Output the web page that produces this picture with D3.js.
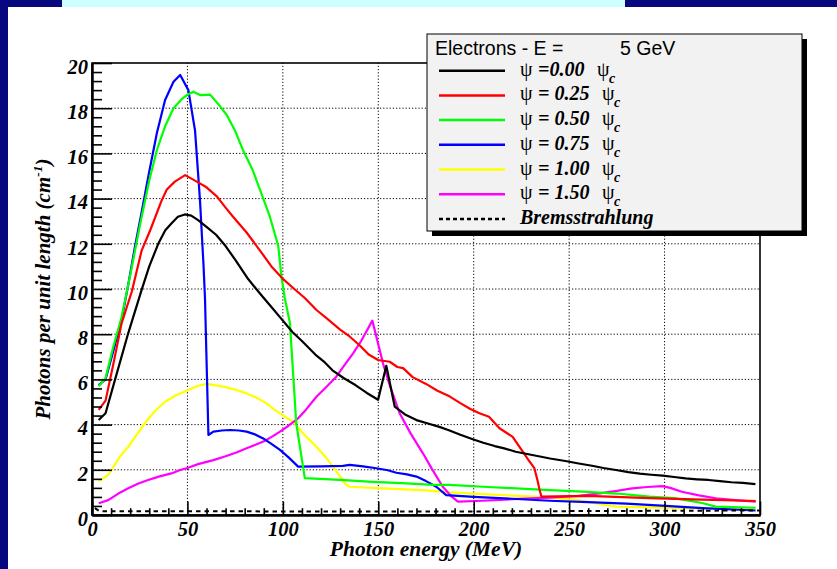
<!DOCTYPE html>
<html><head><meta charset="utf-8">
<script src="https://cdn.jsdelivr.net/npm/d3@7"></script>
<style>body{margin:0;background:#fff;} svg{display:block;}</style>
</head><body><svg id="c" width="837" height="569"></svg>
<script>
// ---------------- DATA ----------------
const legendTitle = "Electrons - E =";
const legendEnergy = "5 GeV";
const psiLabels = ["=0.00", "= 0.25", "= 0.50", "= 0.75", "= 1.00", "= 1.50"];
const bremsLabel = "Bremsstrahlung";
const seriesColors = ["#000000", "#ff0000", "#00ff00", "#0000ff", "#ffff00", "#ff00ff"];
const xTickValues = [0, 50, 100, 150, 200, 250, 300, 350];
const yTickValues = [0, 2, 4, 6, 8, 10, 12, 14, 16, 18, 20];
const xTitle = "Photon energy (MeV)";
const yTitleMain = "Photons per unit length (cm";
const yTitleSup = "-1";

const psi000 = [[3.5,4.2],[7.1,4.5],[12,5.97],[19,8.05],[26,9.96],[30,11.0],[34.7,12.0],[38.4,12.6],[41.6,12.9],[45,13.2],[48.6,13.3],[52,13.25],[55.6,13.05],[60,12.75],[65,12.4],[70,11.9],[75,11.3],[81.3,10.5],[88,9.8],[94,9.2],[100,8.6],[105,8.1],[110,7.7],[117,7.1],[122,6.75],[126,6.4],[132,6.05],[138,5.75],[144,5.4],[149.9,5.1],[154.2,6.6],[158.6,4.8],[164,4.45],[170,4.2],[176,4.05],[182,3.9],[187,3.75],[193,3.55],[199.5,3.35],[205,3.2],[211,3.05],[216,2.95],[222,2.8],[228,2.7],[234,2.6],[240,2.5],[248,2.39],[255,2.28],[262,2.18],[268,2.08],[274.5,1.99],[281,1.9],[287,1.83],[293,1.78],[299,1.74],[305,1.68],[311,1.62],[317,1.58],[323,1.55],[329,1.5],[335,1.45],[341,1.42],[347.6,1.37]];
const psi025 = [[3.5,4.65],[7.1,5.06],[11,6.6],[15.5,8.48],[20.9,9.9],[26,11.7],[30.5,12.6],[36.4,13.9],[39.2,14.4],[43.4,14.75],[48.8,15.04],[54.9,14.75],[60,14.5],[65.4,14.1],[70,13.6],[73.9,13.2],[81,12.5],[88.9,11.6],[94,11.0],[100,10.45],[106,10.0],[111.5,9.6],[117.6,9.07],[123,8.7],[130,8.2],[135,7.9],[140.3,7.5],[145,7.1],[149.9,6.86],[156,6.78],[160,6.55],[163,6.5],[168,6.1],[175,5.8],[181,5.5],[187.3,5.25],[193,4.95],[198,4.7],[203,4.5],[208,4.35],[213.5,3.84],[220.4,3.46],[225.7,2.8],[229,2.4],[231.8,2.07],[233.5,1.5],[234.4,1.15],[235.5,0.81],[260,0.85],[292,0.75],[320,0.68],[347.7,0.62]];
const psi050 = [[3.5,5.7],[7.1,6.05],[11,7.4],[15.5,8.75],[20,10.6],[25.3,12.9],[30,14.8],[34,16.15],[38.3,17.2],[42.7,18.0],[47,18.4],[50,18.6],[53.1,18.73],[56.6,18.58],[61.9,18.6],[66,18.2],[70.6,17.7],[75,17.0],[79.1,16.15],[84,15.3],[88,14.4],[93.2,13.2],[97.6,11.9],[99.3,10.5],[101,9.6],[103.7,8.5],[107,4.07],[111.5,1.63],[130,1.55],[147,1.47],[165,1.4],[178.5,1.33],[187.3,1.33],[205,1.25],[222,1.18],[240,1.1],[257,1.03],[275,0.95],[292,0.81],[305,0.75],[312,0.65],[319.6,0.53],[326.8,0.37],[347.7,0.32]];
const psi075 = [[3.5,5.75],[7.1,6.0],[11,7.2],[15.5,8.63],[19,10.2],[22.5,11.87],[26,13.4],[30,15.2],[34,16.9],[38.3,18.36],[42.7,19.17],[46.2,19.47],[50.5,18.8],[54,17.0],[56.6,13.9],[58.4,11.1],[59.2,9.6],[61,3.54],[63.6,3.69],[68,3.74],[72.3,3.76],[77,3.74],[81,3.69],[85,3.58],[89.7,3.39],[94,3.15],[98.5,2.88],[103,2.55],[108,2.14],[120,2.15],[131.5,2.17],[135,2.22],[142,2.15],[149,2.07],[155,1.98],[159.5,1.87],[165,1.8],[170,1.7],[175,1.5],[180.4,1.25],[185.6,0.88],[200,0.8],[220,0.72],[239.6,0.63],[260,0.57],[280,0.5],[300.6,0.4],[320,0.3],[347.7,0.2]];
const psi100 = [[3.5,1.5],[8.5,1.77],[14.8,2.6],[19,3.02],[23,3.5],[27.7,4.06],[33,4.6],[38.2,5.01],[44,5.3],[50.4,5.53],[55.6,5.72],[60.1,5.8],[64,5.75],[68.8,5.68],[75,5.55],[81,5.38],[86,5.2],[91.5,4.94],[95,4.7],[98.5,4.5],[102,4.3],[105.4,4.13],[109,3.76],[113,3.4],[117.6,3.02],[122,2.6],[126.3,2.14],[130,1.7],[133,1.35],[135,1.25],[152.5,1.18],[173,1.1],[187.3,1.0],[210,0.9],[239.6,0.78],[255,0.65],[265,0.5],[274.5,0.37],[300,0.33],[325,0.28],[347.7,0.25]];
const psi150 = [[3.5,0.52],[8.5,0.66],[14.8,1.0],[19,1.18],[24,1.38],[29.4,1.55],[35,1.7],[41.6,1.84],[46.2,1.99],[50,2.08],[55.6,2.25],[63.6,2.43],[70,2.6],[76,2.78],[81,2.95],[86,3.12],[91,3.3],[95,3.5],[98.5,3.69],[103,3.95],[108,4.28],[112,4.65],[117.6,5.23],[122,5.6],[128,6.12],[132,6.6],[136.8,7.15],[141,7.7],[146.9,8.6],[152.5,6.7],[156,5.75],[161.2,4.5],[167,3.6],[173.4,2.73],[178,2.05],[183.8,1.25],[188,0.85],[191.7,0.59],[204.7,0.63],[220,0.7],[239.6,0.77],[255,0.85],[266,0.96],[275,1.07],[283,1.18],[291,1.24],[298.8,1.28],[303,1.2],[309,1.03],[318,0.87],[326.8,0.74],[337,0.66],[347.7,0.59]];
const brems = [[1.5,0.3],[4,0.17],[175,0.15],[350,0.2]];

// ---------------- LAYOUT ----------------
const W = 837, H = 569;
const svg = d3.select("#c");
const serifBI = s => s.style("font-family", "'Liberation Serif','Times New Roman',serif")
  .style("font-weight", "bold").style("font-style", "italic");

svg.append("rect").attr("width", W).attr("height", H).attr("fill", "#07077f");
svg.append("rect").attr("x", 62).attr("y", 0).attr("width", 563).attr("height", 7).attr("fill", "#ccffff");
svg.append("rect").attr("x", 8).attr("y", 7).attr("width", W - 8).attr("height", H - 7).attr("fill", "#ffffff");

const m = {l: 92, t: 63, r: 760, b: 515};
const x = d3.scaleLinear().domain([0, 350]).range([m.l, m.r]);
const y = d3.scaleLinear().domain([0, 20]).range([m.b, m.t]);

// grid
const grid = svg.append("g").attr("stroke", "#000").attr("stroke-width", 1).attr("stroke-dasharray", "1.2,2");
grid.selectAll(".gx").data(xTickValues.slice(1, -1)).join("line")
  .attr("x1", d => x(d)).attr("x2", d => x(d)).attr("y1", y(0)).attr("y2", y(20));
grid.selectAll(".gy").data(yTickValues.slice(1, -1)).join("line")
  .attr("y1", d => y(d)).attr("y2", d => y(d)).attr("x1", x(0)).attr("x2", x(350));

// series
const line = d3.line().x(d => x(d[0])).y(d => y(d[1]));
const allSeries = [psi000, psi025, psi050, psi075, psi100, psi150];
const drawOrder = [4, 5, 3, 2, 1, 0];
drawOrder.forEach(i => {
  svg.append("path").datum(allSeries[i]).attr("d", line).attr("fill", "none")
    .attr("stroke", seriesColors[i]).attr("stroke-width", 2.2).attr("stroke-linejoin", "round");
});
svg.append("path").datum(brems).attr("d", line).attr("fill", "none")
  .attr("stroke", "#000").attr("stroke-width", 2).attr("stroke-dasharray", "4.5,4");

// axes
const gx = svg.append("g").attr("transform", `translate(0,${m.b})`)
  .call(d3.axisBottom(x).tickValues(xTickValues).tickSizeInner(-13.5).tickSizeOuter(0).tickPadding(6).tickFormat(d3.format("d")));
const gxm = svg.append("g").attr("transform", `translate(0,${m.b})`)
  .call(d3.axisBottom(x).tickValues(d3.range(0, 351, 10).filter(v => v % 50 !== 0)).tickSizeInner(-6.8).tickSizeOuter(0).tickFormat(""));
const gy = svg.append("g").attr("transform", `translate(${m.l},0)`)
  .call(d3.axisLeft(y).tickValues(yTickValues).tickSizeInner(-20).tickSizeOuter(0).tickPadding(4).tickFormat(d3.format("d")));
const gym = svg.append("g").attr("transform", `translate(${m.l},0)`)
  .call(d3.axisLeft(y).tickValues(d3.range(0, 101, 2).map(v => v / 5).filter(v => Math.round(v * 5) % 10 !== 0)).tickSizeInner(-10).tickSizeOuter(0).tickFormat(""));
[gx, gxm, gy, gym].forEach(g => {
  g.select(".domain").attr("stroke", "#000").attr("stroke-width", 2);
  g.selectAll(".tick line").attr("stroke", "#000").attr("stroke-width", 1.6);
  g.selectAll("text").attr("fill", "#000").style("font-size", "20.5px").call(serifBI);
});
gy.selectAll("text").attr("dy", "0.5em");
// frame
svg.append("rect").attr("x", m.l).attr("y", m.t).attr("width", m.r - m.l).attr("height", m.b - m.t)
  .attr("fill", "none").attr("stroke", "#000").attr("stroke-width", 1.6);

// axis titles
svg.append("text").attr("x", (m.l + m.r) / 2).attr("y", 556).attr("text-anchor", "middle")
  .style("font-size", "21.5px").call(serifBI).text(xTitle);
const yt = svg.append("text").attr("transform", `translate(50,${(m.t + m.b) / 2}) rotate(-90)`)
  .attr("text-anchor", "middle").style("font-size", "21px").call(serifBI);
yt.append("tspan").text(yTitleMain);
yt.append("tspan").attr("dy", -8).style("font-size", "13.5px").text(yTitleSup);
yt.append("tspan").attr("dy", 8).text(")");

// legend
const L = {x: 427, y: 34, w: 375, h: 197};
svg.append("rect").attr("x", L.x + 5).attr("y", L.y + 5).attr("width", L.w).attr("height", L.h).attr("fill", "#000");
svg.append("rect").attr("x", L.x).attr("y", L.y).attr("width", L.w).attr("height", L.h)
  .attr("fill", "#f2f2f2").attr("stroke", "#000").attr("stroke-width", 1);
const sans = "'Liberation Sans',Arial,Helvetica,sans-serif";
svg.append("text").attr("x", 435).attr("y", 55).style("font-family", sans).style("font-size", "19.5px").text(legendTitle);
svg.append("text").attr("x", 620).attr("y", 55).style("font-family", sans).style("font-size", "19.5px").text(legendEnergy);

const rowY = i => 70.7 + i * 24.7;
const rows = svg.append("g");
psiLabels.forEach((lab, i) => {
  const ly = rowY(i);
  rows.append("line").attr("x1", 439).attr("x2", 505).attr("y1", ly).attr("y2", ly)
    .attr("stroke", seriesColors[i]).attr("stroke-width", 2.5);
  const base = ly + 5;
  const psi2x = i === 0 ? 597 : 602;
  rows.append("text").attr("x", 520).attr("y", base).style("font-family", "'Liberation Serif',serif").style("font-size", "20px").text("ψ");
  rows.append("text").attr("x", 538).attr("y", base).style("font-size", "20px").call(serifBI).text(lab);
  rows.append("text").attr("x", psi2x).attr("y", base).style("font-family", "'Liberation Serif',serif").style("font-size", "20px").text("ψ");
  rows.append("text").attr("x", psi2x + 12).attr("y", base + 7).style("font-size", "14px").call(serifBI).text("c");
});
const by = rowY(6);
rows.append("line").attr("x1", 439).attr("x2", 505).attr("y1", by).attr("y2", by)
  .attr("stroke", "#000").attr("stroke-width", 2.5).attr("stroke-dasharray", "4,3");
rows.append("text").attr("x", 520).attr("y", by + 5).style("font-size", "20px").call(serifBI).text(bremsLabel);
</script></body></html>
